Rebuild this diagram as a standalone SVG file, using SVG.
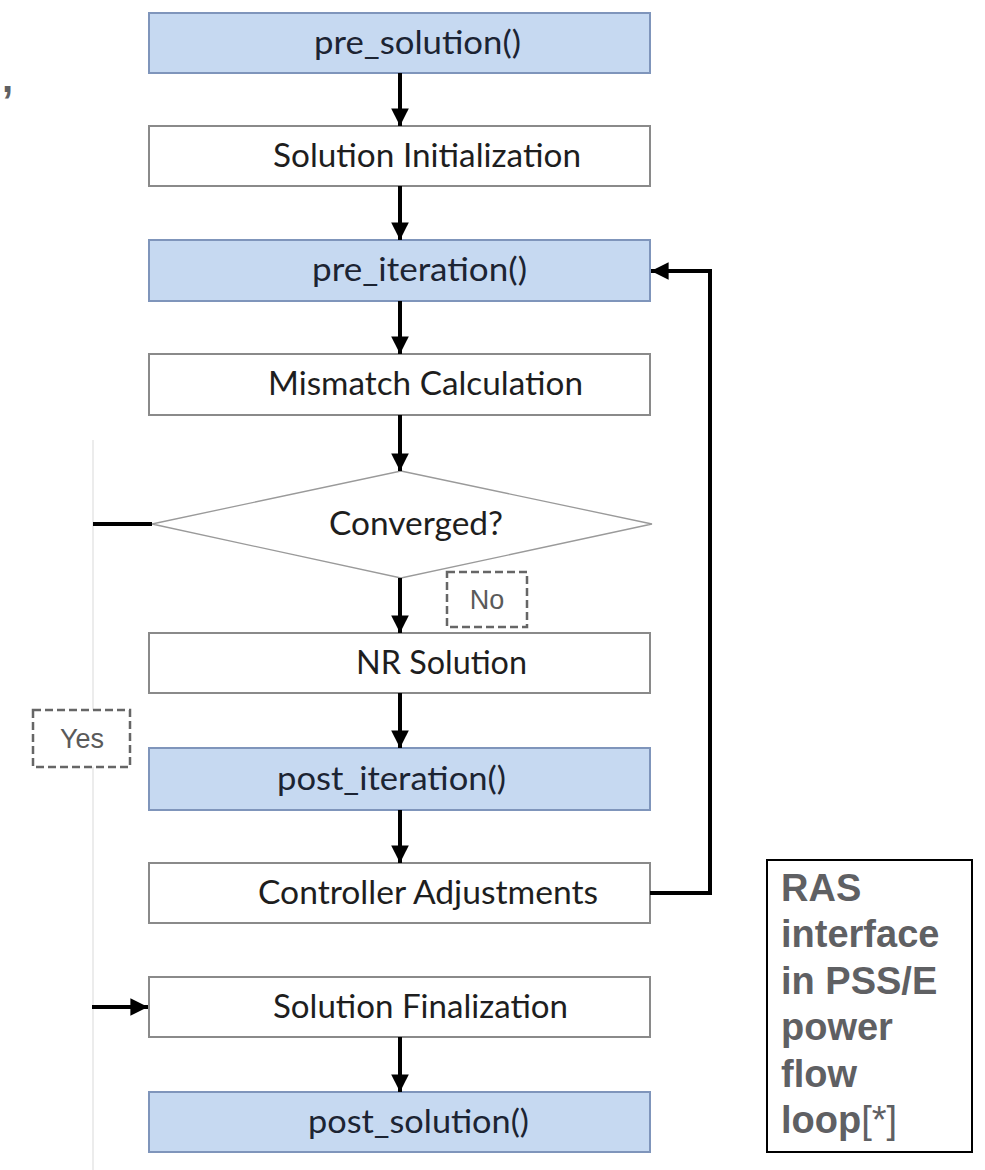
<svg xmlns="http://www.w3.org/2000/svg" width="985" height="1170" viewBox="0 0 985 1170">
<style>
.bb{fill:#c6d9f1;stroke:#7f95bb;stroke-width:2}
.wb{fill:#ffffff;stroke:#8a8a8a;stroke-width:2}
.dm{fill:#ffffff;stroke:#9a9a9a;stroke-width:1.3}
.t{font-family:Lato,"Open Sans",sans-serif;font-size:33px;fill:#1e1e1e}
.tb{fill:#1c2433}
.c{stroke:#000;stroke-width:4;fill:none}
.lb{fill:#fff;stroke:#666;stroke-width:2.5;stroke-dasharray:8,4}
.lt{font-family:"Liberation Sans",Arial,sans-serif;font-size:27px;fill:#5a5a5a;text-anchor:middle}
.ras{font-family:"Liberation Sans",Arial,sans-serif;font-size:38px;font-weight:bold;fill:#5f6063}
</style>
<defs>
<marker id="ah" viewBox="0 0 10 10" refX="10" refY="5" markerWidth="4.4" markerHeight="4.4" markerUnits="strokeWidth" orient="auto">
<path d="M0,0 L10,5 L0,10 z" fill="#000"/>
</marker>
</defs>
<rect width="985" height="1170" fill="#fff"/>
<line x1="93" y1="440" x2="93" y2="1170" stroke="#ececec" stroke-width="2"/>
<text x="2" y="92" font-family="Liberation Sans, Arial, sans-serif" font-size="40" font-weight="bold" fill="#5f6063">,</text>

<g id="n1"><rect class="bb" x="149" y="13" width="501" height="60"/><text class="t tb" x="314" y="54" textLength="207" lengthAdjust="spacingAndGlyphs">pre_solution()</text></g>
<g id="n2"><rect class="wb" x="149" y="126" width="501" height="60"/><text class="t" x="273" y="167" textLength="308" lengthAdjust="spacingAndGlyphs">Solution Initialization</text></g>
<g id="n3"><rect class="bb" x="149" y="240" width="501" height="61"/><text class="t tb" x="312" y="281" textLength="215" lengthAdjust="spacingAndGlyphs">pre_iteration()</text></g>
<g id="n4"><rect class="wb" x="149" y="354" width="501" height="61"/><text class="t" x="268" y="395" textLength="315" lengthAdjust="spacingAndGlyphs">Mismatch Calculation</text></g>
<g id="n5"><polygon class="dm" points="401,471 652,524 401,578 152,524"/><text class="t" x="329" y="535" textLength="174" lengthAdjust="spacingAndGlyphs">Converged?</text></g>
<g id="n6"><rect class="wb" x="149" y="633" width="501" height="60"/><text class="t" x="356" y="674" textLength="171" lengthAdjust="spacingAndGlyphs">NR Solution</text></g>
<g id="n7"><rect class="bb" x="149" y="748" width="501" height="62"/><text class="t tb" x="277" y="790" textLength="229" lengthAdjust="spacingAndGlyphs">post_iteration()</text></g>
<g id="n8"><rect class="wb" x="149" y="863" width="501" height="60"/><text class="t" x="258" y="904" textLength="340" lengthAdjust="spacingAndGlyphs">Controller Adjustments</text></g>
<g id="n9"><rect class="wb" x="149" y="977" width="501" height="60"/><text class="t" x="273" y="1018" textLength="295" lengthAdjust="spacingAndGlyphs">Solution Finalization</text></g>
<g id="n10"><rect class="bb" x="149" y="1092" width="501" height="60"/><text class="t tb" x="308" y="1133" textLength="221" lengthAdjust="spacingAndGlyphs">post_solution()</text></g>

<g id="lblNo"><rect class="lb" x="447" y="572" width="80" height="55"/><text class="lt" x="487" y="609">No</text></g>
<g id="lblYes"><rect class="lb" x="33" y="710" width="97" height="57"/><text class="lt" x="82" y="748">Yes</text></g>

<g id="note"><rect x="767" y="860" width="205" height="292" fill="#fff" stroke="#000" stroke-width="2"/>
<text class="ras" x="781" y="901">RAS</text>
<text class="ras" x="781" y="947">interface</text>
<text class="ras" x="781" y="994">in PSS/E</text>
<text class="ras" x="781" y="1040">power</text>
<text class="ras" x="781" y="1087">flow</text>
<text class="ras" x="781" y="1133">loop<tspan font-weight="normal">[*]</tspan></text>
</g>

<g id="connectors">
<line class="c" x1="400" y1="73" x2="400" y2="126" marker-end="url(#ah)"/>
<line class="c" x1="400" y1="186" x2="400" y2="240" marker-end="url(#ah)"/>
<line class="c" x1="400" y1="301" x2="400" y2="354" marker-end="url(#ah)"/>
<line class="c" x1="400" y1="415" x2="400" y2="471" marker-end="url(#ah)"/>
<line class="c" x1="400" y1="578" x2="400" y2="633" marker-end="url(#ah)"/>
<line class="c" x1="400" y1="693" x2="400" y2="748" marker-end="url(#ah)"/>
<line class="c" x1="400" y1="810" x2="400" y2="863" marker-end="url(#ah)"/>
<line class="c" x1="400" y1="1037" x2="400" y2="1092" marker-end="url(#ah)"/>
<path class="c" d="M650,893 H710 V271 H651" marker-end="url(#ah)"/>
<line class="c" x1="93" y1="524" x2="152" y2="524"/>
<line class="c" x1="92" y1="1007" x2="148" y2="1007" marker-end="url(#ah)"/>
</g>
</svg>
